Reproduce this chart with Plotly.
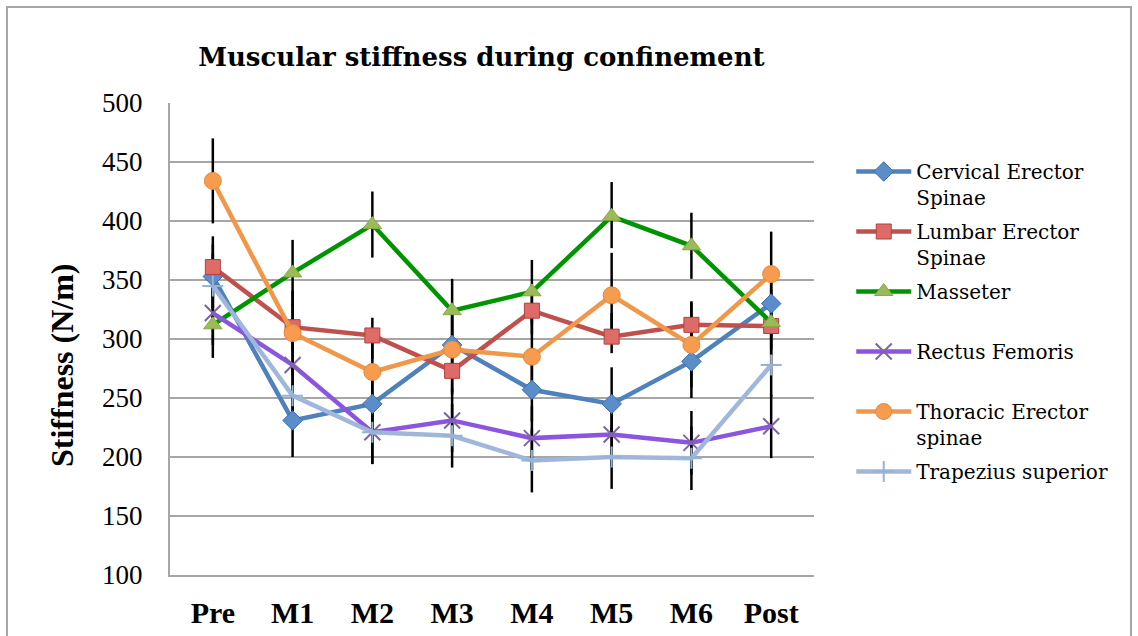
import plotly.graph_objects as go

# Measurement sessions
sessions = ["Pre", "M1", "M2", "M3", "M4", "M5", "M6", "Post"]

# Mean stiffness (N/m) per muscle
cervical = [353, 231, 245, 295, 257, 245, 281, 330]
lumbar = [361, 310, 303, 273, 324, 302, 312, 311]
masseter = [312, 356, 397, 324, 340, 404, 379, 314]
rectus = [322, 278, 221, 231, 216, 219, 212, 226]
thoracic = [434, 305, 272, 291, 285, 337, 295, 355]
trapezius = [345, 252, 221, 218, 197, 200, 199, 278]

# Error bar extents (upper / lower) per muscle
cervical_up = [27, 31, 27, 27, 27, 31, 31, 27]
cervical_lo = [27, 31, 27, 27, 27, 27, 31, 27]
lumbar_up = [26, 20, 15, 20, 20, 20, 20, 20]
lumbar_lo = [26, 20, 20, 20, 20, 14, 20, 20]
masseter_up = [28, 28, 28, 27, 27, 29, 28, 28]
masseter_lo = [28, 28, 28, 27, 27, 27, 28, 28]
rectus_up = [27, 27, 27, 27, 27, 27, 27, 27]
rectus_lo = [27, 27, 27, 27, 27, 27, 27, 27]
thoracic_up = [36, 36, 36, 36, 36, 36, 36, 36]
thoracic_lo = [36, 36, 36, 36, 36, 36, 36, 36]
trapezius_up = [27, 27, 27, 27, 27, 27, 27, 27]
trapezius_lo = [27, 27, 27, 27, 27, 27, 27, 27]

series = [
    dict(name="Cervical Erector<br>Spinae", y=cervical, up=cervical_up, lo=cervical_lo,
         line="#4F81BD", symbol="diamond", mcolor="#5B8DCB", mline="#3E6EA6", size=15),
    dict(name="Lumbar Erector<br>Spinae", y=lumbar, up=lumbar_up, lo=lumbar_lo,
         line="#C0504D", symbol="square", mcolor="#DE6B68", mline="#B2403D", size=15),
    dict(name="Masseter<br> ", y=masseter, up=masseter_up, lo=masseter_lo,
         line="#009400", symbol="triangle-up", mcolor="#9BBB59", mline="#89A84B", size=16),
    dict(name="Rectus Femoris<br> ", y=rectus, up=rectus_up, lo=rectus_lo,
         line="#8B55E0", symbol="x-thin-open", mcolor="#7E659F", mline="#7E659F", size=16),
    dict(name="Thoracic Erector<br>spinae", y=thoracic, up=thoracic_up, lo=thoracic_lo,
         line="#F0984A", symbol="circle", mcolor="#F79B4F", mline="#E58A3C", size=17),
    dict(name="Trapezius superior", y=trapezius, up=trapezius_up, lo=trapezius_lo,
         line="#A0B7DB", symbol="cross-thin-open", mcolor="#95B3D7", mline="#95B3D7", size=15),
]

fig = go.Figure()

# Error bars first so lines and markers sit above them
for s in series:
    fig.add_trace(go.Scatter(
        x=sessions, y=s["y"], mode="markers",
        marker=dict(size=1, opacity=0),
        error_y=dict(type="data", symmetric=False, array=s["up"], arrayminus=s["lo"],
                     color="black", thickness=2.5, width=0),
        showlegend=False, hoverinfo="skip",
    ))

for i, s in enumerate(series):
    open_marker = "open" in s["symbol"]
    fig.add_trace(go.Scatter(
        x=sessions, y=s["y"], mode="lines+markers", name=s["name"],
        legendgroup=f"g{i}",
        line=dict(color=s["line"], width=4.5),
        marker=dict(symbol=s["symbol"], size=s["size"], color=s["mcolor"],
                    line=dict(color=s["mline"], width=2 if open_marker else 1)),
    ))

tick_font = "Liberation Serif"
text_font = "DejaVu Serif"
grid = "#A6A6A6"

fig.update_layout(
    width=1138, height=636,
    margin=dict(l=170, r=324, t=103, b=61),
    paper_bgcolor="white", plot_bgcolor="white",
    font=dict(family=tick_font, color="black"),
    title=dict(text="<b>Muscular stiffness during confinement</b>",
               x=0.423, xref="container", xanchor="center",
               y=0.91, yref="container", yanchor="middle",
               font=dict(family=text_font, size=26, color="black")),
    xaxis=dict(type="category", showgrid=False, zeroline=False,
               showline=True, linecolor=grid, linewidth=2, automargin=False,
               ticks="outside", ticklen=10, tickcolor="rgba(0,0,0,0)",
               tickfont=dict(family=tick_font, size=30, weight="bold")),
    yaxis=dict(range=[100, 500], dtick=50, showgrid=True, gridcolor=grid, gridwidth=2,
               zeroline=False, showline=True, linecolor=grid, linewidth=2,
               automargin=False,
               ticks="outside", ticklen=20, tickcolor="rgba(0,0,0,0)",
               tickfont=dict(family=tick_font, size=27)),
    legend=dict(x=0.748, xref="container", xanchor="left",
                y=0.761, yref="container", yanchor="top",
                valign="top", font=dict(family=text_font, size=20),
                bgcolor="rgba(0,0,0,0)", tracegroupgap=5, itemwidth=55,
                maxheight=600),
    annotations=[dict(text="<b>Stiffness (N/m)</b>", textangle=-90,
                      xref="paper", yref="paper",
                      x=(62 - 170) / 644, y=(575 - 365) / 472,
                      xanchor="center", yanchor="middle", showarrow=False,
                      font=dict(family=tick_font, size=32, color="black"))],
    shapes=[dict(type="rect", xref="paper", yref="paper",
                 x0=(7 - 170) / 644, x1=(1131 - 170) / 644,
                 y0=(575 - 700) / 472, y1=(575 - 7) / 472,
                 line=dict(color=grid, width=2), layer="below")],
)

fig.write_html("out.html")
